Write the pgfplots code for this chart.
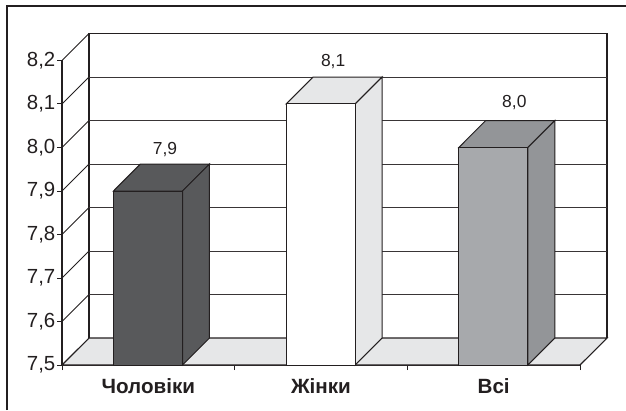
\documentclass[border=0pt]{standalone}
\usepackage{pgfplots}
\pgfplotsset{compat=1.18}
\usepackage{fontspec}
\setmainfont{Liberation Sans}
\definecolor{ink}{HTML}{231F20}
\definecolor{wall}{HTML}{E6E7E8}
\definecolor{darkbar}{HTML}{58595B}
\definecolor{midbar}{HTML}{A7A9AC}
\definecolor{midside}{HTML}{939598}
\pgfkeys{/pgf/number format/.cd,use comma,fixed,fixed zerofill,precision=1,assume math mode=true}
\begin{document}
\begin{tikzpicture}[x=1bp,y=1bp]
\useasboundingbox (0,0) rectangle (626,410);
\draw[ink,line width=1.4bp] (7,0) -- (7,404) -- (626,404);
\begin{axis}[
  at={(62bp,45bp)}, anchor=south west,
  scale only axis, width=518bp, height=304.5bp,
  xmin=0, xmax=3, ymin=7.5, ymax=8.2, clip=false,
  axis x line*=bottom, axis y line*=left,
  axis line style={-,ink,line width=1.1bp},
  tick style={ink,line width=1bp},
  tick align=outside, major tick length=5bp,
  ytick={7.5,7.6,7.7,7.8,7.9,8.0,8.1,8.2},
  xtick={0,1,2,3}, xticklabels={},
  extra x ticks={0.5,1.5,2.5},
  extra x tick labels={Чоловіки,Жінки,Всі},
  extra x tick style={major tick length=0pt,
    tick label style={font=\fontsize{20.7}{24}\selectfont\bfseries,text=ink,
      anchor=center,yshift=-21bp}},
  yticklabel style={font=\fontsize{20.5}{24}\selectfont,text=ink,inner sep=0pt,xshift=-1.5bp},
  unbounded coords=jump,
  every node near coord/.append style={font=\fontsize{17.5}{20}\selectfont,text=ink,anchor=center},
]
% floor of the chart box
\addplot[fill=wall,draw=ink,line width=1.1bp] coordinates
  {(0,7.5) (0.1564,7.562) (3.1564,7.562) (3,7.5)} -- cycle;
% back wall with its grid, and the slanted grid lines of the side wall
\addplot[ink,line width=1.4bp] coordinates
  {(0.1564,7.562) (0.1564,8.262) (3.1564,8.262) (3.1564,7.562)};
\addplot[ink!90,line width=1.05bp] coordinates {
  (0.1564,7.662) (3.1564,7.662) (0,nan)
  (0.1564,7.762) (3.1564,7.762) (0,nan)
  (0.1564,7.862) (3.1564,7.862) (0,nan)
  (0.1564,7.962) (3.1564,7.962) (0,nan)
  (0.1564,8.062) (3.1564,8.062) (0,nan)
  (0.1564,8.162) (3.1564,8.162)};
\addplot[ink,line width=1bp] coordinates {
  (0,7.6) (0.1564,7.662) (0,nan)
  (0,7.7) (0.1564,7.762) (0,nan)
  (0,7.8) (0.1564,7.862) (0,nan)
  (0,7.9) (0.1564,7.962) (0,nan)
  (0,8.0) (0.1564,8.062) (0,nan)
  (0,8.1) (0.1564,8.162) (0,nan)
  (0,8.2) (0.1564,8.262)};
% men
\addplot[fill=darkbar,draw=ink,line width=1bp] coordinates
  {(0.298,7.9) (0.454,7.962) (0.854,7.962) (0.698,7.9)} -- cycle;
\addplot[fill=darkbar,draw=ink,line width=1bp] coordinates
  {(0.698,7.9) (0.854,7.962) (0.854,7.562) (0.698,7.5)} -- cycle;
\addplot[ybar,bar width=0.4,bar shift=0pt,fill=darkbar,draw=ink,line width=1bp,
  nodes near coords,every node near coord/.append style={xshift=17bp,yshift=41bp}]
  coordinates {(0.498,7.9)};
% women
\addplot[fill=wall,draw=ink,line width=1bp] coordinates
  {(1.298,8.1) (1.454,8.162) (1.854,8.162) (1.698,8.1)} -- cycle;
\addplot[fill=wall,draw=ink,line width=1bp] coordinates
  {(1.698,8.1) (1.854,8.162) (1.854,7.562) (1.698,7.5)} -- cycle;
\addplot[ybar,bar width=0.4,bar shift=0pt,fill=white,draw=ink,line width=1bp,
  nodes near coords,every node near coord/.append style={xshift=12.5bp,yshift=42.5bp}]
  coordinates {(1.498,8.1)};
% all
\addplot[fill=midside,draw=ink,line width=1bp] coordinates
  {(2.298,8.0) (2.454,8.062) (2.854,8.062) (2.698,8.0)} -- cycle;
\addplot[fill=midside,draw=ink,line width=1bp] coordinates
  {(2.698,8.0) (2.854,8.062) (2.854,7.562) (2.698,7.5)} -- cycle;
\addplot[ybar,bar width=0.4,bar shift=0pt,fill=midbar,draw=ink,line width=1bp,
  nodes near coords,every node near coord/.append style={xshift=21bp,yshift=45bp}]
  coordinates {(2.498,8.0)};
\end{axis}
\end{tikzpicture}
\end{document}
